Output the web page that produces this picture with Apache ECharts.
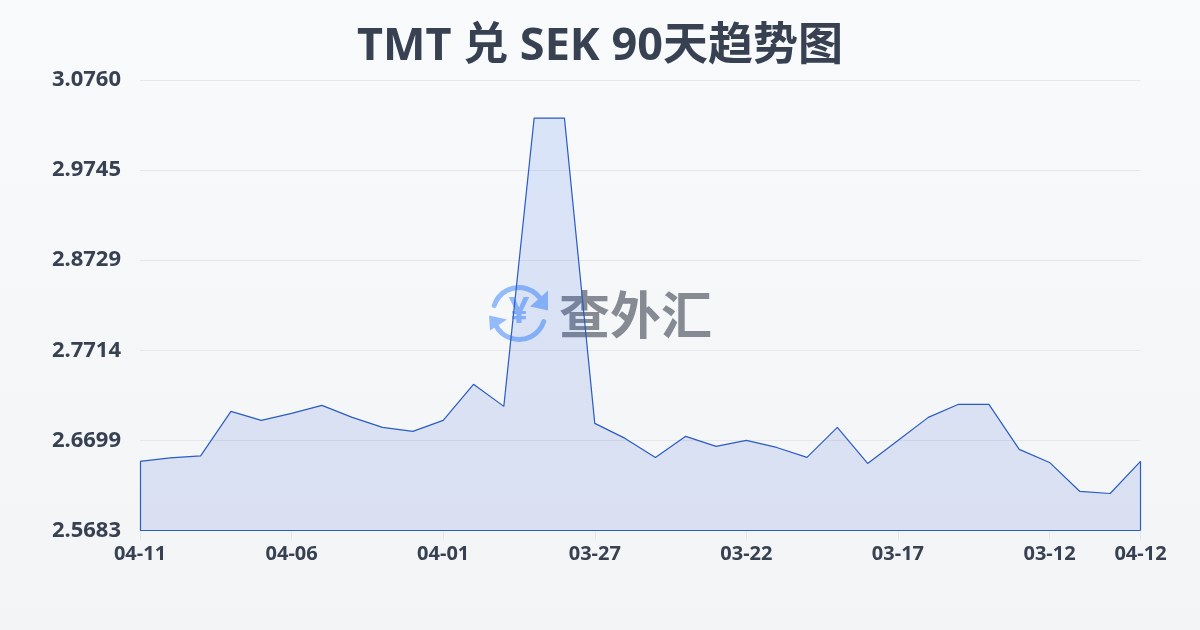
<!DOCTYPE html>
<html>
<head>
<meta charset="utf-8">
<title>TMT 兑 SEK 90天趋势图</title>
<style>
html, body { margin: 0; padding: 0; }
#chart { width: 1200px; height: 630px; }
</style>
<script src="https://cdn.jsdelivr.net/npm/echarts@6/dist/echarts.min.js"></script>
</head>
<body>
<div id="chart"></div>
<script>
var titleText = 'TMT 兑 SEK 90天趋势图';
var dates = ['04-11', '04-10', '04-09', '04-08', '04-07', '04-06', '04-05', '04-04', '04-03', '04-02',
    '04-01', '03-31', '03-30', '03-29', '03-28', '03-27', '03-26', '03-25', '03-24', '03-23',
    '03-22', '03-21', '03-20', '03-19', '03-18', '03-17', '03-16', '03-15', '03-14', '03-13',
    '03-12', '03-11', '03-10', '04-12'];
var rates = [2.6462, 2.6501, 2.6524, 2.7026, 2.6924, 2.7003, 2.7093, 2.6958, 2.6845, 2.6800,
    2.6924, 2.7330, 2.7082, 3.0331, 3.0331, 2.6890, 2.6721, 2.6507, 2.6744, 2.6631,
    2.6698, 2.6619, 2.6507, 2.6845, 2.6439, 2.6698, 2.6958, 2.7105, 2.7105, 2.6597,
    2.6450, 2.6123, 2.6100, 2.6462];
var yTicks = [2.5683, 2.6699, 2.7714, 2.8729, 2.9745, 3.0760];

var lineColor = '#2a5cc4';
var textColor = '#374151';
var fontName = '"Noto Sans", "Noto Sans CJK SC", sans-serif';
var lastIndex = dates.length - 1;

function showDate(index) {
    return index % 5 === 0 || index === lastIndex;
}

var chart = echarts.init(document.getElementById('chart'));

chart.setOption({
    animation: false,
    backgroundColor: new echarts.graphic.LinearGradient(0, 0, 0, 1, [
        { offset: 0, color: '#f8fafc' },
        { offset: 1, color: '#f3f4f6' }
    ]),
    title: {
        text: titleText,
        left: 'center',
        top: 20,
        textStyle: { color: textColor, fontSize: 45, fontWeight: 'bold', fontFamily: fontName }
    },
    grid: { left: 140, right: 59.5, top: 80, bottom: 99.5 },
    xAxis: {
        type: 'category',
        boundaryGap: false,
        data: dates,
        axisLine: { show: false },
        axisTick: { show: true, length: 10, interval: function (i) { return showDate(i); }, lineStyle: { color: '#e5e7eb' } },
        axisLabel: {
            interval: function (i) { return showDate(i); },
            margin: 14,
            hideOverlap: false,
            color: textColor,
            fontSize: 20,
            fontWeight: 'bold',
            fontFamily: fontName
        }
    },
    yAxis: {
        type: 'value',
        min: yTicks[0],
        max: yTicks[yTicks.length - 1],
        axisLine: { show: false },
        axisTick: { show: false, customValues: yTicks },
        splitLine: { show: true, lineStyle: { color: '#e5e7eb', width: 1 } },
        axisLabel: {
            customValues: yTicks,
            margin: 19,
            formatter: function (v) { return v.toFixed(4); },
            color: textColor,
            fontSize: 22,
            fontWeight: 'bold',
            fontFamily: fontName
        }
    },
    series: [{
        type: 'line',
        data: rates,
        symbol: 'none',
        smooth: false,
        lineStyle: { color: lineColor, width: 1.2 },
        areaStyle: {
            origin: 'start',
            color: new echarts.graphic.LinearGradient(0, 0, 0, 1, [
                { offset: 0, color: 'rgba(37,99,235,0.2)' },
                { offset: 1, color: 'rgba(37,79,200,0.18)' }
            ])
        },
        markLine: {
            silent: true,
            symbol: 'none',
            label: { show: false },
            lineStyle: { color: lineColor, width: 1.2, type: 'solid' },
            data: [
                [{ coord: [dates[0], yTicks[0]] }, { coord: [dates[0], rates[0]] }],
                [{ coord: [dates[0], yTicks[0]] }, { coord: [dates[lastIndex], yTicks[0]] }],
                [{ coord: [dates[lastIndex], yTicks[0]] }, { coord: [dates[lastIndex], rates[lastIndex]] }]
            ]
        }
    }],
    // 水印
    graphic: [{
        type: 'group',
        left: 489,
        top: 285,
        z: 100,
        silent: true,
        children: [
            { type: 'arc', shape: { cx: 31, cy: 30, r: 26, startAngle: Math.PI * 1.1, endAngle: Math.PI * 1.85 }, style: { fill: null, stroke: '#93bbfb', lineWidth: 5, lineCap: 'round' } },
            { type: 'arc', shape: { cx: 31, cy: 30, r: 26, startAngle: Math.PI * 0.1, endAngle: Math.PI * 0.85 }, style: { fill: null, stroke: '#93bbfb', lineWidth: 5, lineCap: 'round' } },
            { type: 'polygon', shape: { points: [[60, 7], [60, 27], [42, 23]] }, style: { fill: '#93bbfb' } },
            { type: 'polygon', shape: { points: [[1, 32], [19, 36], [2, 47]] }, style: { fill: '#93bbfb' } },
            { type: 'text', style: { x: 31, y: 29, text: '¥', align: 'center', verticalAlign: 'middle', fill: '#93bbfb', font: 'bold 36px "Noto Sans", sans-serif' } },
            { type: 'text', style: { x: 71, y: 31, text: '查外汇', verticalAlign: 'middle', fill: 'rgba(95,101,112,0.75)', font: 'bold 51px "Noto Sans CJK SC", sans-serif' } }
        ]
    }]
});
</script>
</body>
</html>
